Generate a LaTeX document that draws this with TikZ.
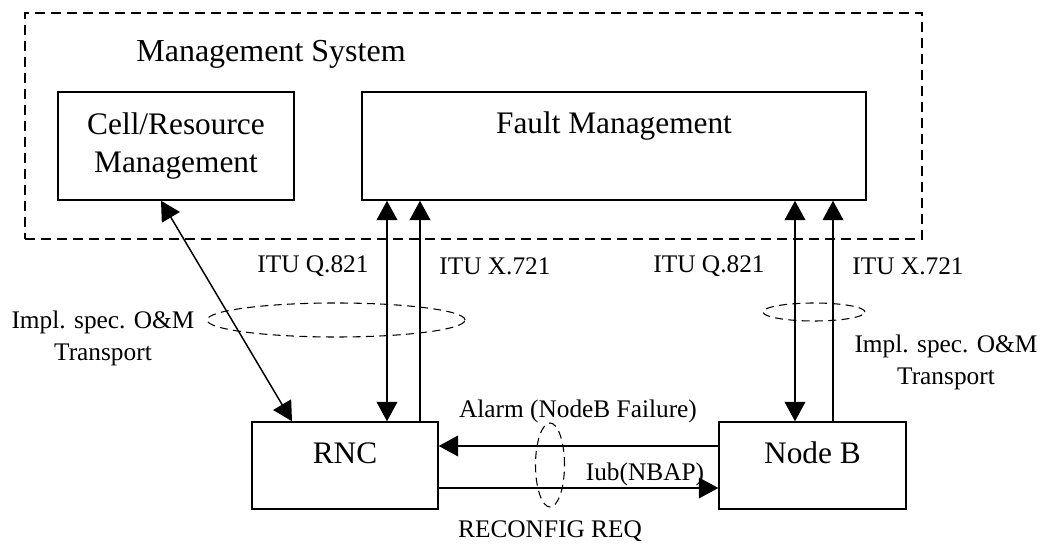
\documentclass[tikz,border=0pt]{standalone}
\usepackage{fontspec}
\setmainfont{Liberation Serif}
\usetikzlibrary{arrows.meta,calc,shapes.geometric}
\begin{document}
\begin{tikzpicture}[x=0.75pt,y=-0.75pt,
  box/.style={draw,line width=1.1pt,inner sep=0pt},
  big/.style={font=\fontsize{23.5}{28.5}\selectfont},
  lbl/.style={font=\fontsize{19}{24}\selectfont,align=center,inner sep=0pt},
  conn/.style={line width=1.1pt},
  tip/.style={-{Triangle[length=14.5pt,width=15.5pt]}},
  dtip/.style={{Triangle[length=14.5pt,width=15.5pt]}-{Triangle[length=14.5pt,width=15.5pt]}},
  dashell/.style={draw,ellipse,dash pattern=on 6pt off 4pt,line width=0.8pt,inner sep=0pt}]
\useasboundingbox (0,0) rectangle (1043,545);
% management system frame
\node[draw,dash pattern=on 7.5pt off 4.5pt,line width=1pt,minimum width=672.75pt,minimum height=169.5pt,inner sep=0pt] (ms) at (473.5,126) {};
\node[font=\fontsize{24}{29}\selectfont] (mstext) at (271,54) {Management System};
% boxes
\node[box,big,align=center,minimum width=177pt,minimum height=81pt] (cell) at (176,146) {Cell/Resource\\Management};
\node[box,minimum width=378pt,minimum height=81pt] (fm) at (614,146) {};
\node[big] (fmtext) at (614,126) {Fault Management};
\node[box,minimum width=139.5pt,minimum height=65.25pt] (rnc) at (345,465.5) {};
\node[big] (rnctext) at (345,453) {RNC};
\node[box,minimum width=140.25pt,minimum height=65.25pt] (nodeb) at (812.5,465.5) {};
\node[big] (nodebtext) at (812.5,453) {Node B};
% ellipses
\node[dashell,minimum width=193.5pt,minimum height=25.5pt] (ell1) at (336,320) {};
\node[dashell,minimum width=76.5pt,minimum height=13.5pt] (ell2) at (814,312) {};
\node[dashell,minimum width=21.75pt,minimum height=63pt] (ell3) at (550,465) {};
% connector coordinates
\coordinate (c1) at ($(cell.south)+(-15,0)$);
\coordinate (r0) at ($(rnc.north)+(-53,0)$);
\coordinate (r1) at ($(rnc.north)+(42,0)$);
\coordinate (r2) at ($(rnc.north)+(75,0)$);
\coordinate (b1) at ($(nodeb.north)+(-17.5,0)$);
\coordinate (b2) at ($(nodeb.north)+(20.5,0)$);
\coordinate (ra) at ($(rnc.east)+(0,-19.5)$);
\coordinate (ri) at ($(rnc.east)+(0,22.5)$);
% connectors
\draw[conn,dtip] (c1) -- (r0);
\draw[conn,dtip] (r1) -- (r1 |- fm.south);
\draw[conn,tip] (r2) -- (r2 |- fm.south);
\draw[conn,dtip] (b1) -- (b1 |- fm.south);
\draw[conn,tip] (b2) -- (b2 |- fm.south);
\draw[conn,tip] (ra -| nodeb.west) -- (ra);
\draw[conn,tip] (ri) -- (ri -| nodeb.west);
% labels
\node[lbl] (q1) at (313,266) {ITU Q.821};
\node[lbl] (x1) at (495,266) {ITU X.721};
\node[lbl] (q2) at (709,266) {ITU Q.821};
\node[lbl] (x2) at (908,266) {ITU X.721};
\node[lbl] (impl1) at (103,338) {Impl. spec. O\&M\\Transport};
\node[lbl] (impl2) at (946,362) {Impl. spec. O\&M\\Transport};
\node[lbl] (alarm) at (578,411) {Alarm (NodeB Failure)};
\node[lbl] (iub) at (645,474) {Iub(NBAP)};
\node[lbl] (reconf) at (550,531) {RECONFIG REQ};
\end{tikzpicture}
\end{document}
